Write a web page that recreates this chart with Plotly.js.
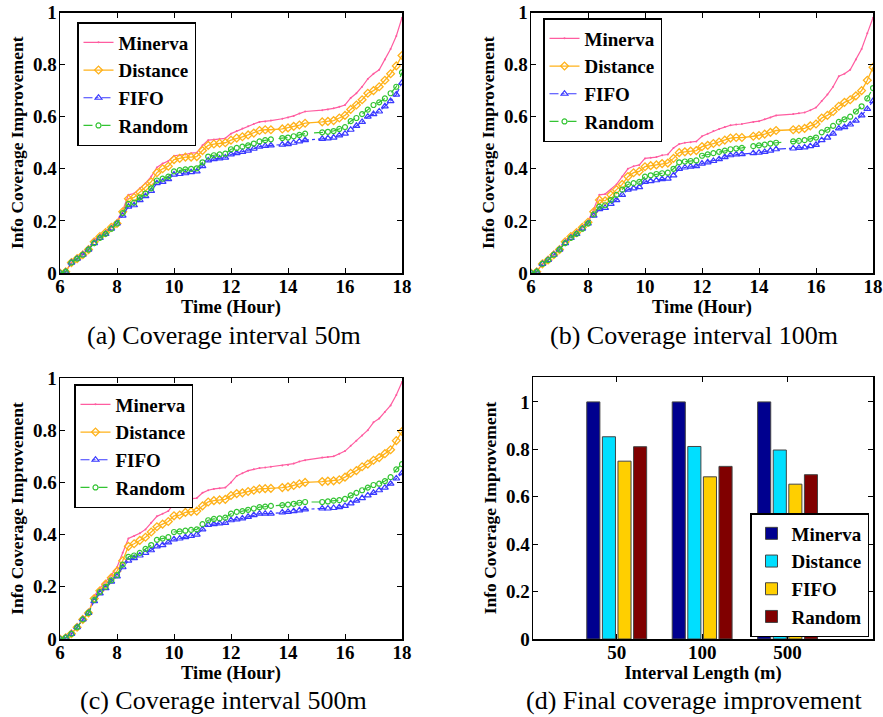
<!DOCTYPE html>
<html><head><meta charset="utf-8">
<script src="https://cdn.plot.ly/plotly-3.0.1.min.js"></script>
<style>html,body{margin:0;padding:0;background:#fff}#chart{width:883px;height:717px}</style>
</head><body><div id="chart"></div>
<script>
const hours = [6.0,6.2,6.4,6.6,6.8,7.0,7.2,7.4,7.6,7.8,
8.0,8.2,8.4,8.6,8.8,9.0,9.2,9.4,9.6,9.8,
10.0,10.2,10.4,10.6,10.8,11.0,11.2,11.4,11.6,11.8,
12.0,12.2,12.4,12.6,12.8,13.0,13.2,13.4,13.8,14.0,
14.2,14.4,14.6,15.2,15.4,15.6,15.8,16.0,16.2,16.4,
16.6,16.8,17.0,17.2,17.4,17.6,17.8,18.0];

// (a) 50m
const aMinerva = [0,0.005,0.04,0.055,0.075,0.09,0.13,0.145,0.16,0.18,
0.20,0.24,0.30,0.305,0.325,0.345,0.37,0.405,0.42,0.43,
0.45,0.452,0.455,0.46,0.462,0.49,0.51,0.512,0.515,0.517,
0.535,0.545,0.555,0.563,0.572,0.58,0.582,0.585,0.592,0.597,
0.603,0.612,0.62,0.625,0.628,0.632,0.638,0.645,0.672,0.69,
0.715,0.745,0.765,0.78,0.82,0.86,0.91,0.98];
const aDistance = [0,0.005,0.04,0.055,0.07,0.09,0.12,0.14,0.155,0.175,
0.19,0.235,0.285,0.29,0.31,0.33,0.35,0.385,0.40,0.41,
0.435,0.44,0.445,0.445,0.447,0.47,0.49,0.495,0.498,0.50,
0.51,0.518,0.523,0.53,0.537,0.547,0.55,0.55,0.553,0.557,
0.563,0.568,0.575,0.58,0.582,0.585,0.595,0.605,0.628,0.645,
0.665,0.69,0.70,0.715,0.74,0.765,0.795,0.835];
const aFIFO = [0,0.005,0.04,0.055,0.07,0.09,0.115,0.135,0.15,0.17,
0.19,0.22,0.255,0.26,0.28,0.295,0.315,0.345,0.35,0.36,
0.378,0.38,0.383,0.387,0.39,0.41,0.432,0.437,0.44,0.443,
0.455,0.46,0.465,0.47,0.477,0.485,0.488,0.49,0.493,0.495,
0.50,0.505,0.51,0.515,0.517,0.52,0.528,0.535,0.55,0.565,
0.58,0.60,0.61,0.62,0.64,0.66,0.685,0.73];
const aRandom = [0,0.005,0.04,0.055,0.07,0.09,0.115,0.135,0.15,0.17,
0.19,0.23,0.265,0.27,0.29,0.305,0.325,0.355,0.362,0.37,
0.39,0.395,0.398,0.40,0.402,0.425,0.447,0.452,0.455,0.458,
0.475,0.48,0.485,0.49,0.497,0.505,0.51,0.513,0.518,0.52,
0.525,0.53,0.535,0.54,0.542,0.545,0.553,0.56,0.583,0.595,
0.61,0.627,0.645,0.655,0.67,0.69,0.715,0.77];

// (b) 100m
const bMinerva = [0,0.005,0.035,0.05,0.07,0.09,0.125,0.145,0.16,0.18,
0.20,0.245,0.30,0.303,0.32,0.34,0.37,0.40,0.41,0.415,
0.44,0.442,0.445,0.452,0.455,0.48,0.495,0.50,0.502,0.505,
0.525,0.535,0.545,0.553,0.56,0.567,0.57,0.572,0.58,0.583,
0.59,0.597,0.605,0.61,0.613,0.616,0.625,0.635,0.66,0.685,
0.715,0.755,0.765,0.78,0.82,0.86,0.92,0.98];
const bDistance = [0,0.005,0.035,0.05,0.07,0.09,0.12,0.14,0.155,0.175,
0.195,0.235,0.28,0.277,0.30,0.32,0.34,0.37,0.385,0.39,
0.408,0.412,0.415,0.42,0.422,0.44,0.462,0.465,0.468,0.47,
0.485,0.49,0.497,0.503,0.51,0.518,0.52,0.52,0.525,0.528,
0.533,0.54,0.547,0.55,0.552,0.555,0.565,0.572,0.595,0.605,
0.62,0.64,0.655,0.665,0.68,0.70,0.74,0.79];
const bFIFO = [0,0.005,0.035,0.05,0.07,0.09,0.115,0.135,0.15,0.17,
0.19,0.22,0.245,0.25,0.265,0.28,0.30,0.32,0.325,0.33,
0.35,0.353,0.356,0.36,0.362,0.375,0.40,0.405,0.408,0.41,
0.42,0.425,0.43,0.437,0.445,0.452,0.455,0.456,0.46,0.462,
0.465,0.47,0.475,0.478,0.48,0.482,0.487,0.492,0.51,0.52,
0.535,0.555,0.56,0.57,0.585,0.605,0.63,0.66];
const bRandom = [0,0.005,0.035,0.05,0.07,0.09,0.115,0.135,0.15,0.17,
0.19,0.225,0.255,0.26,0.28,0.30,0.32,0.34,0.345,0.35,
0.37,0.375,0.38,0.383,0.385,0.40,0.425,0.428,0.43,0.432,
0.45,0.455,0.46,0.465,0.47,0.475,0.478,0.48,0.487,0.49,
0.493,0.497,0.50,0.505,0.507,0.51,0.515,0.52,0.54,0.55,
0.565,0.58,0.59,0.60,0.62,0.64,0.67,0.71];

// (c) 500m
const cMinerva = [0,0.005,0.02,0.045,0.075,0.10,0.165,0.195,0.22,0.245,
0.275,0.33,0.385,0.395,0.405,0.42,0.445,0.47,0.48,0.49,
0.52,0.522,0.535,0.537,0.54,0.56,0.57,0.575,0.578,0.58,
0.60,0.625,0.635,0.645,0.65,0.655,0.657,0.66,0.665,0.667,
0.672,0.68,0.685,0.695,0.697,0.70,0.71,0.72,0.74,0.76,
0.78,0.80,0.83,0.845,0.87,0.895,0.935,0.985];
const cDistance = [0,0.005,0.02,0.045,0.075,0.10,0.155,0.185,0.21,0.235,
0.26,0.30,0.355,0.365,0.378,0.39,0.41,0.43,0.44,0.45,
0.472,0.475,0.485,0.488,0.49,0.51,0.525,0.53,0.533,0.535,
0.55,0.557,0.56,0.565,0.57,0.575,0.576,0.577,0.58,0.583,
0.588,0.595,0.60,0.603,0.605,0.606,0.61,0.62,0.635,0.645,
0.66,0.67,0.685,0.695,0.71,0.725,0.76,0.795];
const cFIFO = [0,0.005,0.02,0.045,0.075,0.10,0.145,0.175,0.195,0.22,
0.24,0.275,0.30,0.31,0.32,0.33,0.34,0.355,0.36,0.37,
0.382,0.385,0.39,0.395,0.40,0.42,0.437,0.44,0.443,0.445,
0.455,0.458,0.462,0.468,0.475,0.48,0.48,0.48,0.485,0.487,
0.49,0.493,0.497,0.50,0.50,0.502,0.505,0.51,0.52,0.53,
0.54,0.55,0.56,0.57,0.58,0.595,0.615,0.635];
const cRandom = [0,0.005,0.02,0.045,0.075,0.10,0.15,0.18,0.20,0.225,
0.245,0.285,0.315,0.32,0.33,0.345,0.36,0.38,0.385,0.39,
0.41,0.412,0.415,0.418,0.42,0.44,0.455,0.46,0.462,0.465,
0.48,0.487,0.49,0.495,0.50,0.505,0.507,0.51,0.513,0.515,
0.518,0.522,0.525,0.525,0.527,0.53,0.532,0.537,0.55,0.56,
0.57,0.58,0.59,0.595,0.605,0.62,0.65,0.67];

// (d) final
const intervals = ['50','100','500'];
const finalMinerva = [1,1,1];
const finalDistance = [0.853,0.812,0.797];
const finalFIFO = [0.75,0.684,0.653];
const finalRandom = [0.811,0.728,0.693];

const seriesNames = ['Minerva','Distance','FIFO','Random'];
const captions = ['(a) Coverage interval 50m','(b) Coverage interval 100m','(c) Coverage interval 500m','(d) Final coverage improvement'];

const SERIF = 'Liberation Serif, Times New Roman, serif';
const styles = {
  Minerva: {line:{color:'#FF5CA0',width:1.2,dash:'solid'}, marker:{symbol:'circle',size:2,color:'#FF5CA0'}},
  Distance:{line:{color:'#FFB21A',width:1.3,dash:'solid'}, marker:{symbol:'diamond-open',size:6,color:'#FFB21A',line:{width:1.3}}},
  FIFO:    {line:{color:'#3A3AFF',width:1.2,dash:'dashdot'}, marker:{symbol:'triangle-up-open',size:6,color:'#3A3AFF',line:{width:1.2}}},
  Random:  {line:{color:'#33C433',width:1.2,dash:'dash'}, marker:{symbol:'circle-open',size:5,color:'#33C433',line:{width:1.2}}}
};

const panels = [
  {data:{Minerva:aMinerva,Distance:aDistance,FIFO:aFIFO,Random:aRandom}, xa:'x', ya:'y', lg:'legend'},
  {data:{Minerva:bMinerva,Distance:bDistance,FIFO:bFIFO,Random:bRandom}, xa:'x2', ya:'y2', lg:'legend2'},
  {data:{Minerva:cMinerva,Distance:cDistance,FIFO:cFIFO,Random:cRandom}, xa:'x3', ya:'y3', lg:'legend3'}
];

const traces = [];
panels.forEach(p => {
  seriesNames.forEach(n => {
    traces.push({type:'scatter', mode:'lines+markers', x:hours, y:p.data[n], name:n,
      xaxis:p.xa, yaxis:p.ya, legend:p.lg, line:styles[n].line, marker:styles[n].marker, cliponaxis:true});
  });
});

const barColors = {Minerva:'#00008F', Distance:'#00DFFF', FIFO:'#FFCF00', Random:'#800000'};
const finals = {Minerva:finalMinerva, Distance:finalDistance, FIFO:finalFIFO, Random:finalRandom};
seriesNames.forEach(n => {
  traces.push({type:'bar', x:intervals, y:finals[n], name:n, xaxis:'x4', yaxis:'y4', legend:'legend4',
    marker:{color:barColors[n], line:{color:'#444', width:1}}});
});

const tickFont = {family:SERIF, size:19, color:'#000', weight:'bold'};
const xTitleFont = {family:SERIF, size:18.5, color:'#000', weight:'bold'};
const yTitleFont = {family:SERIF, size:17.5, color:'#000', weight:'bold'};

function xAx(domain, anchor) {
  return {domain:domain, anchor:anchor, range:[6,18], tickvals:[6,8,10,12,14,16,18],
    ticks:'inside', ticklen:5, tickwidth:1, tickcolor:'#000', showline:true, linecolor:'#000', linewidth:1.5,
    mirror:'ticks', showgrid:false, zeroline:false, tickfont:tickFont, automargin:false, ticklabelstandoff:-4,
    title:{text:'Time (Hour)', font:xTitleFont, standoff:0}};
}
function yAx(domain, anchor) {
  return {domain:domain, anchor:anchor, range:[0,1], tickvals:[0,0.2,0.4,0.6,0.8,1], ticktext:['0','0.2','0.4','0.6','0.8','1'],
    ticks:'inside', ticklen:5, tickwidth:1, tickcolor:'#000', showline:true, linecolor:'#000', linewidth:1.5,
    mirror:'ticks', showgrid:false, zeroline:false, tickfont:tickFont, automargin:false, ticklabelstandoff:-2,
    title:{text:'Info Coverage Improvement', font:yTitleFont, standoff:5}};
}

const W = 883, H = 717;
const px = v => v / W, py = v => 1 - v / H;

const legendBase = {font:{family:SERIF, size:19, color:'#000', weight:'bold'}, bgcolor:'#fff',
  bordercolor:'#000', borderwidth:1.5, xanchor:'left', yanchor:'top', tracegroupgap:0, itemwidth:30};

const capFont = {family:SERIF, size:26, color:'#000'};
const layout = {
  width:W, height:H, margin:{l:0,r:0,t:0,b:0}, paper_bgcolor:'#fff', plot_bgcolor:'#fff',
  showlegend:true, barmode:'group', bargap:0.27, bargroupgap:0.16,
  xaxis: xAx([px(60), px(402)], 'y'),
  yaxis: yAx([py(273), py(12.5)], 'x'),
  xaxis2: xAx([px(531), px(873)], 'y2'),
  yaxis2: yAx([py(273), py(12.5)], 'x2'),
  xaxis3: xAx([px(60), px(402)], 'y3'),
  yaxis3: yAx([py(639), py(378)], 'x3'),
  xaxis4: {domain:[px(533), px(873)], anchor:'y4', type:'category', range:[-0.98,3],
    ticks:'inside', ticklen:5, tickcolor:'#000', showline:true, linecolor:'#000', linewidth:1.5, mirror:'ticks',
    showgrid:false, zeroline:false, tickfont:tickFont, automargin:false, ticklabelstandoff:-4,
    title:{text:'Interval Length (m)', font:xTitleFont, standoff:0}},
  yaxis4: {domain:[py(639), py(377)], anchor:'x4', range:[0,1.105], tickvals:[0,0.2,0.4,0.6,0.8,1], ticktext:['0','0.2','0.4','0.6','0.8','1'],
    ticks:'inside', ticklen:5, tickcolor:'#000', showline:true, linecolor:'#000', linewidth:1.5, mirror:'ticks',
    showgrid:false, zeroline:false, tickfont:tickFont, automargin:false, ticklabelstandoff:-2,
    title:{text:'Info Coverage Improvement', font:yTitleFont, standoff:5}},
  legend: Object.assign({}, legendBase, {x:px(77), y:py(22)}),
  legend2: Object.assign({}, legendBase, {x:px(543), y:py(18)}),
  legend3: Object.assign({}, legendBase, {x:px(74), y:py(384)}),
  legend4: Object.assign({}, legendBase, {x:px(869), y:py(637), xanchor:'right', yanchor:'bottom'}),
  annotations: [
    {text:captions[0], x:px(224), y:py(335), xref:'paper', yref:'paper', xanchor:'center', yanchor:'middle', showarrow:false, font:capFont},
    {text:captions[1], x:px(694), y:py(335), xref:'paper', yref:'paper', xanchor:'center', yanchor:'middle', showarrow:false, font:capFont},
    {text:captions[2], x:px(224), y:py(700), xref:'paper', yref:'paper', xanchor:'center', yanchor:'middle', showarrow:false, font:capFont},
    {text:captions[3], x:px(694), y:py(700), xref:'paper', yref:'paper', xanchor:'center', yanchor:'middle', showarrow:false, font:capFont}
  ]
};

Plotly.newPlot('chart', traces, layout, {staticPlot:true, displayModeBar:false});
</script></body></html>
